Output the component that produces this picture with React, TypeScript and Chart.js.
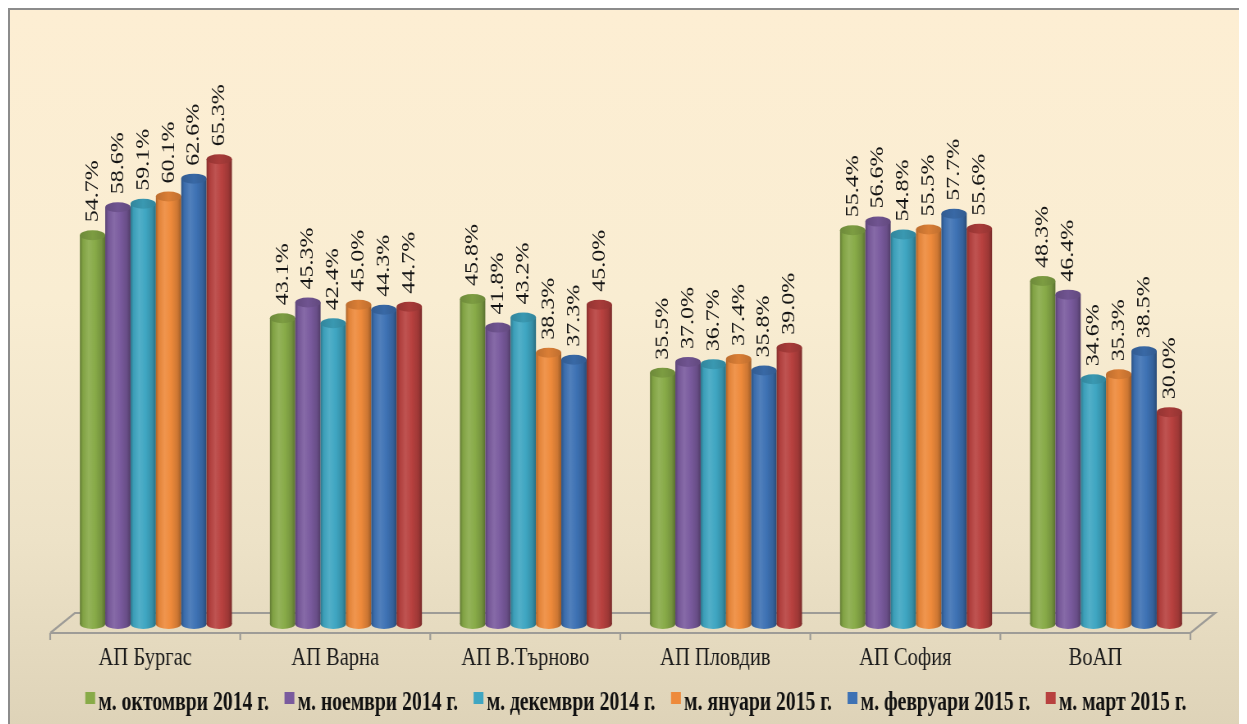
import React, { useEffect, useRef } from "react";
import { Chart, registerables } from "chart.js";

Chart.register(...registerables);

const categories = ["АП Бургас", "АП Варна", "АП В.Търново", "АП Пловдив", "АП София", "ВоАП"];
const seriesLabels = [
  "м. октомври 2014 г.",
  "м. ноември 2014 г.",
  "м. декември 2014 г.",
  "м. януари 2015 г.",
  "м. февруари 2015 г.",
  "м. март 2015 г.",
];
const october2014 = [54.7, 43.1, 45.8, 35.5, 55.4, 48.3];
const november2014 = [58.6, 45.3, 41.8, 37.0, 56.6, 46.4];
const december2014 = [59.1, 42.4, 43.2, 36.7, 54.8, 34.6];
const january2015 = [60.1, 45.0, 38.3, 37.4, 55.5, 35.3];
const february2015 = [62.6, 44.3, 37.3, 35.8, 57.7, 38.5];
const march2015 = [65.3, 44.7, 45.0, 39.0, 55.6, 30.0];
const seriesData = [october2014, november2014, december2014, january2015, february2015, march2015];
const seriesColors = ["#88AB48", "#7A5B9E", "#3FA6C2", "#EE8A3B", "#3E72B4", "#B8413F"];

const SERIF = '"Liberation Serif", "Times New Roman", serif';
const SCALE_X = 0.8203;
const CANVAS_W = 1508;
const CANVAS_H = 714;

function shade(hex: string, f: number): string {
  const n = parseInt(hex.slice(1), 16);
  let r = (n >> 16) & 255, g = (n >> 8) & 255, b = n & 255;
  if (f <= 1) {
    r *= f; g *= f; b *= f;
  } else {
    const t = f - 1;
    r += (255 - r) * t; g += (255 - g) * t; b += (255 - b) * t;
  }
  return `rgb(${Math.round(r)},${Math.round(g)},${Math.round(b)})`;
}

const DEPTH_X = 30;
const BAR_SHIFT = 13;

const cylinderPlugin = {
  id: "cylinders",
  beforeDatasetsDraw(chart: any) {
    const ctx = chart.ctx;
    const xs = chart.scales.x;
    const y0 = chart.scales.y.getPixelForValue(0);
    const front = y0 + 6;
    const back = y0 - 14;
    const step = xs.getPixelForValue(1) - xs.getPixelForValue(0);
    const L = xs.getPixelForValue(0) - step / 2;
    const R = xs.getPixelForValue(categories.length - 1) + step / 2;
    ctx.save();
    ctx.strokeStyle = "#9E9C97";
    ctx.lineWidth = 2.2;
    ctx.beginPath();
    ctx.moveTo(L, front);
    ctx.lineTo(L + DEPTH_X, back);
    ctx.lineTo(R + DEPTH_X, back);
    ctx.lineTo(R, front);
    ctx.lineTo(L, front);
    for (let i = 0; i <= categories.length; i++) {
      const tx = L + i * step;
      ctx.moveTo(tx, front);
      ctx.lineTo(tx, front + 7);
    }
    ctx.stroke();
    ctx.restore();
  },
  beforeDatasetDraw() {
    return false;
  },
  afterDatasetsDraw(chart: any) {
    const ctx = chart.ctx;
    ctx.save();
    const n = chart.data.datasets.length;
    for (let c = 0; c < categories.length; c++) {
      for (let d = 0; d < n; d++) {
        const meta = chart.getDatasetMeta(d);
        const el: any = meta.data[c];
        if (!el) continue;
        const color = seriesColors[d];
        const cx = el.x + BAR_SHIFT;
        const w = el.width;
        const rx = w / 2;
        const ry = 5;
        const top = el.y;
        const base = el.base - 3;
        const g = ctx.createLinearGradient(cx - rx, 0, cx + rx, 0);
        g.addColorStop(0, shade(color, 0.72));
        g.addColorStop(0.12, shade(color, 0.95));
        g.addColorStop(0.35, shade(color, 1.1));
        g.addColorStop(0.6, shade(color, 1.0));
        g.addColorStop(0.85, shade(color, 0.86));
        g.addColorStop(1, shade(color, 0.66));
        ctx.fillStyle = g;
        ctx.beginPath();
        ctx.ellipse(cx, base, rx, ry, 0, 0, Math.PI * 2);
        ctx.fill();
        ctx.fillRect(cx - rx, top, w, base - top);
        const cg = ctx.createLinearGradient(cx - rx, 0, cx + rx, 0);
        cg.addColorStop(0, shade(color, 0.8));
        cg.addColorStop(0.5, shade(color, 0.92));
        cg.addColorStop(1, shade(color, 0.8));
        ctx.fillStyle = cg;
        ctx.beginPath();
        ctx.ellipse(cx, top, rx, ry, 0, 0, Math.PI * 2);
        ctx.fill();
      }
    }
    // value labels
    ctx.font = `24px ${SERIF}`;
    ctx.fillStyle = "#141414";
    ctx.textAlign = "left";
    ctx.textBaseline = "middle";
    for (let d = 0; d < n; d++) {
      const meta = chart.getDatasetMeta(d);
      const vals = chart.data.datasets[d].data;
      meta.data.forEach((el: any, i: number) => {
        ctx.save();
        ctx.translate(el.x + BAR_SHIFT, el.y - 13);
        ctx.rotate(-Math.PI / 2);
        ctx.fillText(`${Number(vals[i]).toFixed(1)}%`, 0, 0);
        ctx.restore();
      });
    }
    ctx.restore();
  },
  afterDraw(chart: any) {
    const ctx = chart.ctx;
    ctx.save();
    ctx.font = `bold 24px ${SERIF}`;
    ctx.textBaseline = "middle";
    ctx.textAlign = "left";
    const box = 12;
    const gap = 4;
    const itemGap = 19;
    const widths = seriesLabels.map((t) => ctx.measureText(t).width);
    const total = widths.reduce((a, b) => a + b, 0) + seriesLabels.length * (box + gap) + (seriesLabels.length - 1) * itemGap;
    let x = 763 - total / 2;
    const cy = 693;
    seriesLabels.forEach((t, i) => {
      ctx.fillStyle = seriesColors[i];
      ctx.fillRect(x, cy - 11, box, box);
      x += box + gap;
      ctx.fillStyle = "#111111";
      ctx.save();
      ctx.translate(x, cy);
      ctx.scale(1, 1.12);
      ctx.fillText(t, 0, 0);
      ctx.restore();
      x += widths[i] + itemGap;
    });
    ctx.restore();
  },
};

export default function App() {
  const ref = useRef<HTMLCanvasElement | null>(null);
  useEffect(() => {
    document.documentElement.style.overflow = "hidden";
    document.body.style.overflow = "hidden";
    if (!ref.current) return;
    const chart = new Chart(ref.current, {
      type: "bar",
      data: {
        labels: categories,
        datasets: seriesLabels.map((label, i) => ({
          label,
          data: seriesData[i],
          backgroundColor: seriesColors[i],
          borderWidth: 0,
          categoryPercentage: 0.8,
          barPercentage: 1,
        })),
      },
      options: {
        responsive: false,
        animation: false,
        layout: { padding: { left: 49, right: 69, top: 44, bottom: 35 } },
        scales: {
          x: {
            grid: { display: false, drawTicks: false },
            border: { display: false },
            ticks: { font: { family: SERIF, size: 25 }, color: "#1A1A1A", padding: 16 },
          },
          y: { display: false, min: 0, max: 80 },
        },
        plugins: {
          legend: { display: false },
          tooltip: { enabled: false },
        },
      },
      plugins: [cylinderPlugin],
    });
    return () => chart.destroy();
  }, []);

  return (
    <div
      style={{
        width: 1270,
        height: 730,
        marginBottom: -8,
        boxSizing: "border-box",
        borderTop: "2px solid #8C8C8C",
        borderLeft: "2px solid #8C8C8C",
        overflow: "hidden",
        background: "linear-gradient(to bottom, #FDEED3 0%, #F9EDD2 40%, #EDE2C7 73%, #DDD2B7 100%)",
      }}
    >
      <div style={{ width: CANVAS_W, height: CANVAS_H, transform: `scaleX(${SCALE_X})`, transformOrigin: "0 0" }}>
        <canvas ref={ref} width={CANVAS_W} height={CANVAS_H} style={{ display: "block", width: CANVAS_W, height: CANVAS_H }} />
      </div>
    </div>
  );
}
